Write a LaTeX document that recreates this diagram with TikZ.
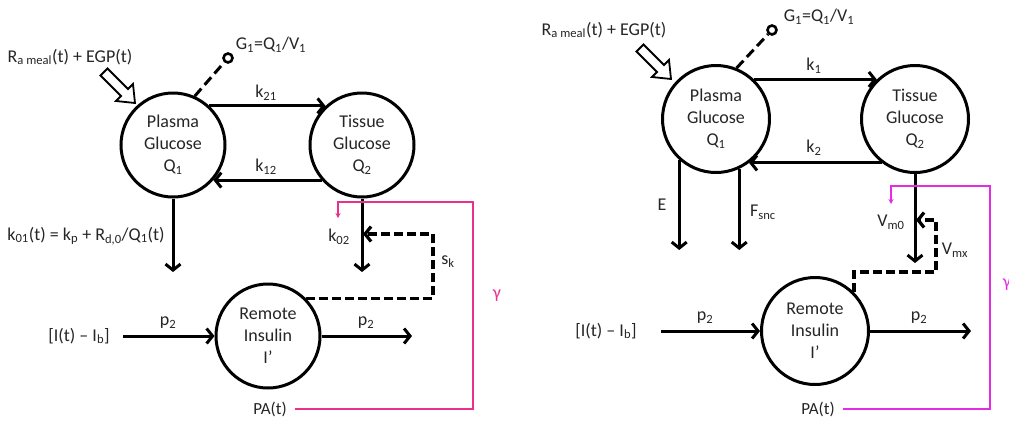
\documentclass[tikz,border=0pt]{standalone}
\usepackage{fontspec}
\setmainfont{Carlito}
\usetikzlibrary{arrows.meta,calc}
\definecolor{pinkL}{RGB}{232,48,140}
\definecolor{pinkR}{RGB}{228,44,228}
\newcommand\sbs[1]{\textsubscript{#1}}
\tikzset{
  comp/.style={circle, draw, line width=3pt, minimum size=#1, inner sep=0pt, align=center,
    text=black!85, font=\fontsize{18}{22}\selectfont},
  flow/.style={line width=3pt, -{Straight Barb[length=6pt,width=15pt]}},
  ctrl/.style={line width=3.2pt, dash pattern=on 9pt off 4pt, -{Straight Barb[length=6pt,width=15pt]}},
  lbl/.style={inner sep=0pt, text=black!85, font=\fontsize{18}{21}\selectfont},
  sml/.style={inner sep=0pt, text=black!85, font=\fontsize{17}{20}\selectfont},
  gdash/.style={line width=3pt, dash pattern=on 10pt off 5pt},
  gdot/.style={circle, draw, line width=2.6pt, minimum size=9pt, inner sep=0pt},
  magL/.style={line width=2pt, draw=pinkL, -{Stealth[length=5pt,width=5pt]}},
  magR/.style={line width=2pt, draw=pinkR, -{Stealth[length=5pt,width=5pt]}},
  blk/.style={line width=1.8pt, fill=white, line join=miter}
}
\begin{document}
\begin{tikzpicture}[x=1pt,y=-1pt]
\useasboundingbox (0,0) rectangle (1009,424);
\fill[white] (0,0) rectangle (1009,424);

% ================= LEFT DIAGRAM =================
\node[comp=104pt] (pg1) at (173,145) {Plasma\\Glucose\\Q\sbs{1}};
\node[comp=104pt] (tg1) at (362,145) {Tissue\\Glucose\\Q\sbs{2}};
\node[comp=104pt] (ri1) at (268,336) {Remote\\Insulin\\I’};

\draw[flow] (pg1.47) -- (tg1.133);
\node[lbl] (k21) at (266,93) {k\sbs{21}};
\draw[flow] (tg1.-139) -- (pg1.-41);
\node[lbl] (k12) at (266,167) {k\sbs{12}};

\coordinate (e1) at (173,272);
\draw[flow] (pg1.south) -- (e1);
\node[lbl] (k01) at (86,236) {k\sbs{01}(t) = k\sbs{p} + R\sbs{d,0}/Q\sbs{1}(t)};

\coordinate (e2) at (362,272);
\draw[flow] (tg1.south) -- (e2);
\node[lbl] (k02) at (339,237) {k\sbs{02}};

\coordinate (d1) at (433,234);
\coordinate (d2) at (363,234);
\draw[ctrl] (ri1.north east) -| (d1) -- (d2);
\node[lbl] (sk) at (448,262) {s\sbs{k}};

\node[lbl] (in1) at (79,336) {[I(t) – I\sbs{b}]};
\coordinate (i1) at (123,336);
\draw[flow] (i1) -- (ri1.west);
\node[lbl] (p2a) at (168,323) {p\sbs{2}};
\coordinate (o1) at (412,336);
\draw[flow] (ri1.east) -- (o1);
\node[lbl] (p2b) at (366,323) {p\sbs{2}};

\node[sml] (pa1) at (270,409) {PA(t)};
\coordinate (m1) at (473,202);
\coordinate (m2) at (338,218);
\draw[magL] ([xshift=8pt]pa1.east) -| (m1) -| (m2);
\node[lbl, text=pinkL] (gam1) at (497,296) {γ};

\node[gdot] (g1) at (228,58) {};
\draw[gdash] (pg1.66) -- (g1);
\node[lbl] (g1t) at (271,45) {G\sbs{1}=Q\sbs{1}/V\sbs{1}};

\node[lbl] (ra1) at (70,57) {R\sbs{a meal}(t) + EGP(t)};
\draw[blk] (107.5,68.5) -- (128,89) -- (133,84) -- (135,103) -- (116,101) -- (121,96) -- (100.5,75.5) -- cycle;

% ================= RIGHT DIAGRAM =================
\node[comp=107pt] (pg2) at (716,119) {Plasma\\Glucose\\Q\sbs{1}};
\node[comp=107pt] (tg2) at (915,119) {Tissue\\Glucose\\Q\sbs{2}};
\node[comp=107pt] (ri2) at (815,331) {Remote\\Insulin\\I’};

\draw[flow] (pg2.46) -- (tg2.134);
\node[lbl] (k1) at (814,66) {k\sbs{1}};
\draw[flow] (tg2.-127) -- (pg2.-53);
\node[lbl] (k2) at (814,148) {k\sbs{2}};

\coordinate (eE) at (680,250);
\draw[flow] (pg2.-132) -- (pg2.-132 |- eE);
\node[lbl] (E) at (662,205) {E};
\coordinate (eF) at (739,250);
\draw[flow] (pg2.-65) -- (pg2.-65 |- eF);
\node[lbl] (fsnc) at (763,212) {F\sbs{snc}};

\coordinate (e3) at (915,263);
\draw[flow] (tg2.south) -- (e3);
\node[lbl] (vm0) at (891,222) {V\sbs{m0}};

\coordinate (d3) at (936,272);
\coordinate (d4) at (916,220);
\draw[ctrl] (ri2.north east) |- (d3) |- (d4);
\node[lbl] (vmx) at (955,250) {V\sbs{mx}};

\node[lbl] (in2) at (606,331) {[I(t) – I\sbs{b}]};
\coordinate (i2) at (661,331);
\draw[flow] (i2) -- (ri2.west);
\node[lbl] (p2c) at (705,318) {p\sbs{2}};
\coordinate (o2) at (971,331);
\draw[flow] (ri2.east) -- (o2);
\node[lbl] (p2d) at (919,318) {p\sbs{2}};

\node[sml] (pa2) at (818,409) {PA(t)};
\coordinate (m3) at (990,186);
\coordinate (m4) at (891,204);
\draw[magR] ([xshift=8pt]pa2.east) -| (m3) -| (m4);
\node[lbl, text=pinkR] (gam2) at (1007,285) {γ};

\node[gdot] (g2) at (772,30) {};
\draw[gdash] (pg2.68) -- (g2);
\node[lbl] (g2t) at (819,17) {G\sbs{1}=Q\sbs{1}/V\sbs{1}};

\node[lbl] (ra2) at (604,30) {R\sbs{a meal}(t) + EGP(t)};
\begin{scope}[shift={(536,-24)}]
\draw[blk] (107.5,68.5) -- (128,89) -- (133,84) -- (135,103) -- (116,101) -- (121,96) -- (100.5,75.5) -- cycle;
\end{scope}
\end{tikzpicture}
\end{document}
